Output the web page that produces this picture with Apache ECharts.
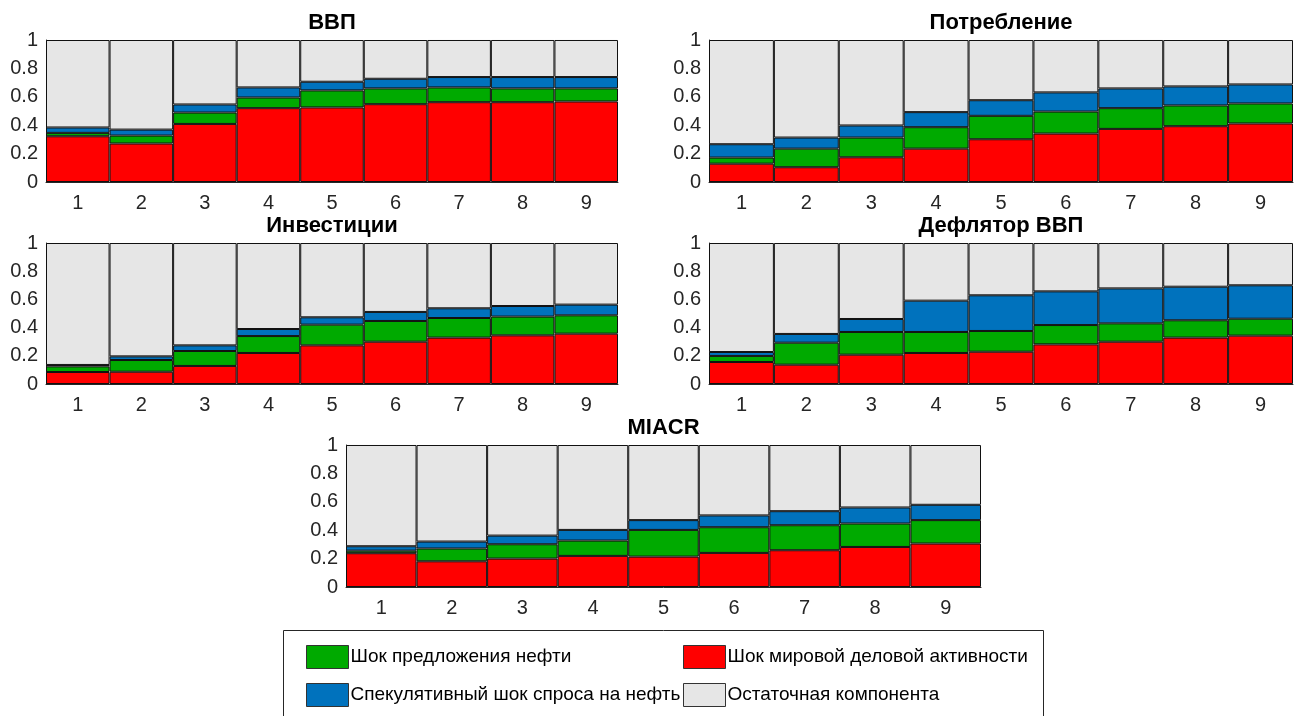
<!DOCTYPE html>
<html>
<head>
<meta charset="utf-8">
<script src="https://cdn.jsdelivr.net/npm/echarts@6/dist/echarts.min.js"></script>
<style>
html,body{margin:0;padding:0;background:#fff;}
#chart{width:1304px;height:716px;}
</style>
</head>
<body>
<div id="chart"></div>
<script>
// ---- data ----
var categories = ['1','2','3','4','5','6','7','8','9'];
var panelTitles = ['ВВП', 'Потребление', 'Инвестиции', 'Дефлятор ВВП', 'MIACR'];
var seriesNames = ['Шок мировой деловой активности', 'Шок предложения нефти', 'Спекулятивный шок спроса на нефть', 'Остаточная компонента'];
var yTicks = [0, 0.2, 0.4, 0.6, 0.8, 1];

// ВВП
var gdpWorld   = [0.322,0.271,0.409,0.520,0.525,0.548,0.562,0.562,0.567];
var gdpSupply  = [0.024,0.056,0.080,0.075,0.120,0.111,0.104,0.097,0.092];
var gdpSpec    = [0.038,0.042,0.057,0.071,0.061,0.068,0.073,0.080,0.080];
var gdpResid   = [0.616,0.631,0.454,0.334,0.294,0.273,0.261,0.261,0.261];
// Потребление
var consWorld  = [0.129,0.104,0.174,0.235,0.301,0.341,0.374,0.393,0.412];
var consSupply = [0.043,0.131,0.139,0.151,0.165,0.155,0.146,0.146,0.141];
var consSpec   = [0.094,0.078,0.085,0.106,0.110,0.135,0.139,0.134,0.134];
var consResid  = [0.734,0.687,0.602,0.508,0.424,0.369,0.341,0.327,0.313];
// Инвестиции
var invWorld   = [0.085,0.087,0.128,0.220,0.274,0.300,0.329,0.345,0.357];
var invSupply  = [0.040,0.083,0.106,0.120,0.147,0.147,0.139,0.133,0.130];
var invSpec    = [0.010,0.026,0.040,0.050,0.052,0.064,0.069,0.075,0.076];
var invResid   = [0.865,0.804,0.726,0.610,0.527,0.489,0.463,0.447,0.437];
// Дефлятор ВВП
var deflWorld  = [0.156,0.137,0.208,0.220,0.229,0.281,0.300,0.329,0.343];
var deflSupply = [0.043,0.156,0.161,0.149,0.147,0.137,0.130,0.123,0.120];
var deflSpec   = [0.028,0.062,0.092,0.222,0.253,0.239,0.248,0.238,0.237];
var deflResid  = [0.773,0.645,0.539,0.409,0.371,0.343,0.322,0.310,0.300];
// MIACR
var miacrWorld  = [0.238,0.181,0.200,0.219,0.214,0.240,0.259,0.282,0.306];
var miacrSupply = [0.018,0.090,0.101,0.108,0.188,0.181,0.176,0.165,0.165];
var miacrSpec   = [0.031,0.049,0.061,0.075,0.069,0.083,0.099,0.113,0.108];
var miacrResid  = [0.713,0.680,0.638,0.598,0.529,0.496,0.466,0.440,0.421];

var panels = [
  [gdpWorld, gdpSupply, gdpSpec, gdpResid],
  [consWorld, consSupply, consSpec, consResid],
  [invWorld, invSupply, invSpec, invResid],
  [deflWorld, deflSupply, deflSpec, deflResid],
  [miacrWorld, miacrSupply, miacrSpec, miacrResid]
];

// ---- layout / style ----
var colors = ['#ff0000', '#00aa00', '#0072bd', '#e6e6e6'];
var FONT = 'Liberation Sans, Arial, Helvetica, sans-serif';
var grids = [
  {left: 46,  top: 40,  width: 572, height: 142},
  {left: 709, top: 40,  width: 584, height: 142},
  {left: 46,  top: 243, width: 572, height: 141},
  {left: 709, top: 243, width: 584, height: 141},
  {left: 346, top: 445, width: 635, height: 142}
];

var titles = [], xAxes = [], yAxes = [], series = [];
grids.forEach(function (g, i) {
  titles.push({
    text: panelTitles[i],
    left: g.left + g.width / 2,
    top: g.top - 28,
    textAlign: 'center',
    padding: 0,
    textStyle: {fontFamily: FONT, fontSize: 22, fontWeight: 'bold', color: '#000'}
  });
  xAxes.push({
    type: 'category', gridIndex: i, data: categories, boundaryGap: true,
    axisLine: {show: true, lineStyle: {color: '#262626', width: 1}},
    axisTick: {show: false},
    axisLabel: {fontFamily: FONT, fontSize: 20, color: '#262626', margin: 11}
  });
  yAxes.push({
    type: 'value', gridIndex: i, min: 0, max: 1, interval: 0.2,
    axisLine: {show: true, lineStyle: {color: '#262626', width: 1}},
    axisTick: {show: false},
    splitLine: {show: false},
    axisLabel: {fontFamily: FONT, fontSize: 20, color: '#262626', margin: 8,
      formatter: function (v) { return String(Math.round(v * 10) / 10); }}
  });
  panels[i].forEach(function (vals, k) {
    series.push({
      type: 'bar', name: seriesNames[k], xAxisIndex: i, yAxisIndex: i,
      stack: 'p' + i, data: vals, barCategoryGap: '0%', barGap: '0%',
      itemStyle: {color: colors[k], borderColor: '#111', borderWidth: 1},
      emphasis: {disabled: true},
      animation: false
    });
  });
});

function legendItem(name, left, top) {
  return {
    data: [name], left: left, top: top, padding: 0, orient: 'horizontal',
    icon: 'rect', itemWidth: 42, itemHeight: 23, selectedMode: false,
    itemStyle: {borderColor: '#333', borderWidth: 1},
    textStyle: {fontFamily: FONT, fontSize: 19, color: '#000', padding: [0, 0, 0, -3]}
  };
}

var option = {
  animation: false,
  backgroundColor: '#fff',
  title: titles,
  grid: grids,
  xAxis: xAxes,
  yAxis: yAxes,
  series: series,
  legend: [
    legendItem(seriesNames[1], 306, 645),
    legendItem(seriesNames[0], 683, 645),
    legendItem(seriesNames[2], 306, 683),
    legendItem(seriesNames[3], 683, 683)
  ],
  graphic: [{
    type: 'rect', z: -10, silent: true,
    shape: {x: 283.5, y: 630.5, width: 760, height: 100},
    style: {fill: '#fff', stroke: '#262626', lineWidth: 1}
  }]
};

var chart = echarts.init(document.getElementById('chart'), null, {renderer: 'canvas'});
chart.setOption(option);
</script>
</body>
</html>
